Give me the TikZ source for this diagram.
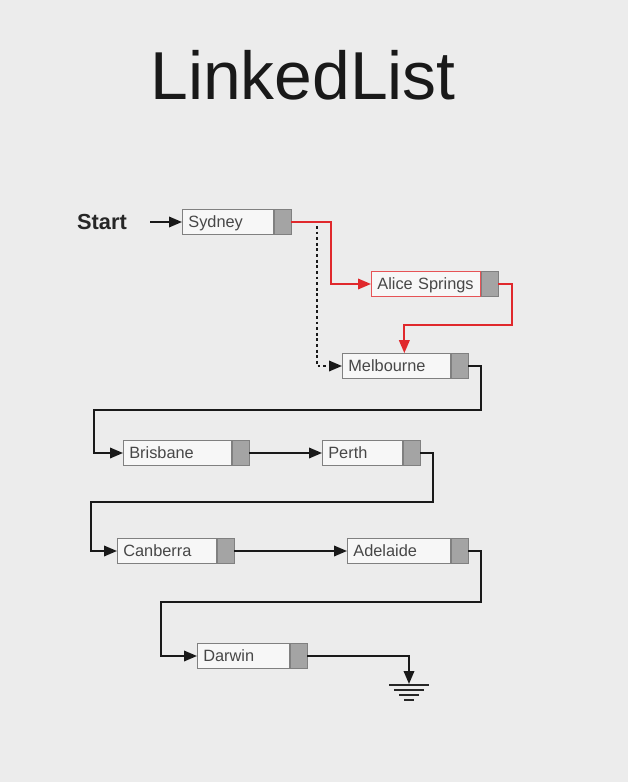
\documentclass[tikz,border=0pt]{standalone}
\usepackage{fontspec}
\setmainfont{Liberation Sans}
\usetikzlibrary{arrows.meta, positioning}
\definecolor{bgcol}{HTML}{ECECEC}
\definecolor{boxcol}{HTML}{F7F7F7}
\definecolor{edgecol}{HTML}{808080}
\definecolor{ptrcol}{HTML}{A4A4A4}
\definecolor{linkred}{HTML}{E0282C}
\tikzstyle{cell} = [rectangle, anchor=west, minimum height=0.5cm, inner xsep=0.12cm, inner ysep=1pt, text height=1.6ex, text depth=0.4ex, draw=edgecol, fill=boxcol, text=black!72, font=\fontsize{9.3}{11}\selectfont, align=left]
\tikzstyle{ptr} = [rectangle, minimum width=0.34cm, minimum height=0.5cm, inner sep=0pt, draw=edgecol, fill=ptrcol]
\tikzstyle{arrow} = [line width=1.1pt, black!90, -{Triangle[length=2.6mm,width=2.1mm]}]
\tikzstyle{redarrow} = [line width=1.1pt, linkred, -{Triangle[length=2.6mm,width=2.1mm]}]
\begin{document}
\begin{tikzpicture}[x=0.02cm, y=-0.02cm]
\useasboundingbox[fill=bgcol] (0,0) rectangle (628,782);

\node (title) [text=black!90] at (303,75) {\fontsize{38.6}{44}\selectfont LinkedList};
\node (start) [font=\bfseries\fontsize{12.4}{14}\selectfont, text=black!85] at (102,222) {Start};

% the list cells
\node (sydney) [cell, text width=1.58cm] at (182,222) {Sydney};
\node (sydney-p) [ptr, right=0pt of sydney] {};

\node (alice) [cell, draw=linkred!80, text width=1.94cm] at (371,284) {Alice Springs};
\node (alice-p) [ptr, right=0pt of alice] {};

\node (melb) [cell, text width=1.92cm] at (342,366) {Melbourne};
\node (melb-p) [ptr, right=0pt of melb] {};

\node (bris) [cell, text width=1.92cm] at (123,453) {Brisbane};
\node (bris-p) [ptr, right=0pt of bris] {};

\node (perth) [cell, text width=1.36cm] at (322,453) {Perth};
\node (perth-p) [ptr, right=0pt of perth] {};

\node (canb) [cell, text width=1.74cm] at (117,551) {Canberra};
\node (canb-p) [ptr, right=0pt of canb] {};

\node (adel) [cell, text width=1.82cm] at (347,551) {Adelaide};
\node (adel-p) [ptr, right=0pt of adel] {};

\node (darwin) [cell, text width=1.60cm] at (197,656) {Darwin};
\node (darwin-p) [ptr, right=0pt of darwin] {};

% turning points
\coordinate (fork) at (317,226);
\coordinate (turnA) at (94,410);
\coordinate (turnB) at (91,502);
\coordinate (turnC) at (161,602);
\coordinate (gnd) at (409,684);

\draw [arrow, shorten <=0.34cm] (start) -- (sydney);
\draw [arrow, dash pattern=on 1.6pt off 1.6pt] (fork) |- (melb.west);
\draw [redarrow] (sydney-p.east) -- ++(40,0) |- (alice.west);
\draw [redarrow] (alice-p.east) -- ++(14,0) -- ++(0,41) -| ([xshift=0.16cm]melb.north);
\draw [arrow] (melb-p.east) -- ++(13,0) |- (turnA) |- (bris.west);
\draw [arrow] (bris-p) -- (perth);
\draw [arrow] (perth-p.east) -- ++(13,0) |- (turnB) |- (canb.west);
\draw [arrow] (canb-p) -- (adel);
\draw [arrow] (adel-p.east) -- ++(13,0) |- (turnC) |- (darwin.west);
\draw [arrow] (darwin-p.east) -| (gnd);

% ground
\foreach \w/\d in {20/1,15/6,10/11,5/16}
  \draw [line width=1.4pt, black!85] (gnd) ++(-\w,\d) -- ++({2*\w},0);
\end{tikzpicture}
\end{document}
